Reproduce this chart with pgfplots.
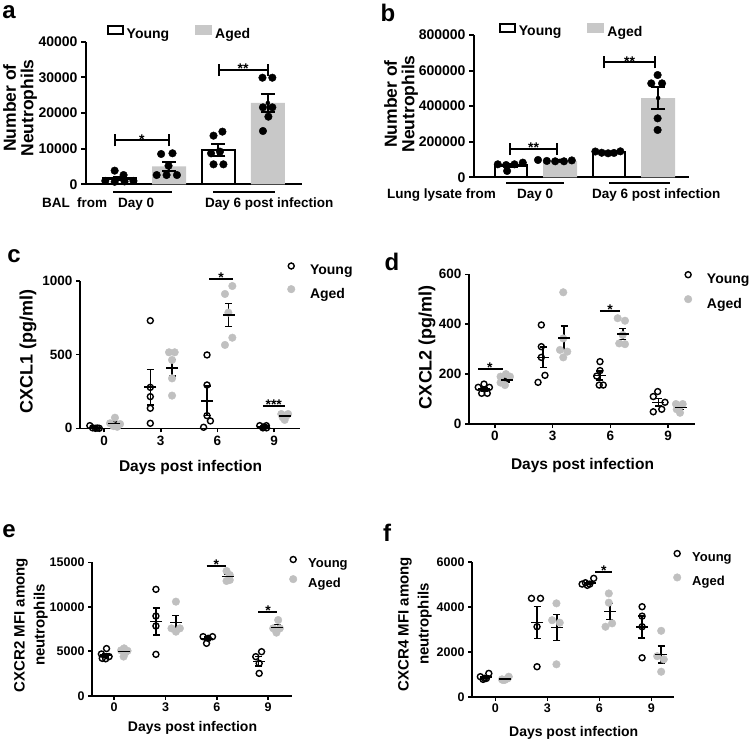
\documentclass[border=0pt]{standalone}
\usepackage{fontspec}
\setmainfont{Liberation Sans}
\usepackage{pgfplots}
\pgfplotsset{compat=1.18}
\definecolor{agedbar}{RGB}{200,200,200}
\definecolor{agedpt}{RGB}{192,192,192}
\newcommand{\fs}[1]{\bfseries\fontsize{#1}{#1}\selectfont}
\newcommand{\fsl}[2]{\bfseries\fontsize{#1}{#2}\selectfont}
\pgfplotsset{
  base/.style={scale only axis, clip=false, anchor=south west,
    axis x line*=bottom, axis y line*=left, tick align=outside,
    major tick length=4pt, ymin=0,
    /pgf/number format/assume math mode=true, scaled y ticks=false,
    yticklabel style={/pgf/number format/fixed, /pgf/number format/1000 sep={}},
    legend cell align=left},
  barax/.style={base, xtick=\empty, axis line style={line width=2pt, black},
    ytick style={line width=2pt, black}, tick label style={font=\fs{14}}, major tick length=5pt,
    legend style={draw=none, fill=none, inner sep=0pt, anchor=south west, legend columns=2,
      font=\fs{14}, nodes={inner sep=0pt},
      /tikz/every odd column/.append style={column sep=3pt},
      /tikz/every even column/.append style={column sep=26pt}}},
  dotax/.style={base, xtick={0,3,6,9}, axis line style={line width=1.6pt, black},
    tick style={line width=1.6pt, black}},
  young/.style={only marks, mark=o, mark size=3pt, mark options={line width=1.4pt, black}, black},
  aged/.style={only marks, mark=*, mark size=3.8pt, mark options={draw=agedpt, fill=agedpt}, agedpt},
  meanerr/.style={only marks, mark=-, mark size=6pt, mark options={line width=1.5pt, black}, black, forget plot,
    error bars/.cd, y dir=both, y explicit, error bar style={line width=1.5pt, black},
    error mark options={rotate=90, line width=1.5pt, black, mark size=3.5pt}},
  barerr/.style={only marks, mark=none, black, forget plot,
    error bars/.cd, y dir=both, y explicit, error bar style={line width=2pt, black},
    error mark options={rotate=90, line width=2pt, black, mark size=7pt}},
  barpts/.style={only marks, mark=*, mark size=3.8pt, black, forget plot},
  dotleg/.style={legend style={draw=none, fill=none, inner sep=0pt, anchor=north west,
      nodes={inner sep=0pt}}},
}
\tikzset{
  sig/.style={line width=1.8pt, black},
  star/.style={anchor=south, inner sep=0pt, yshift=-4pt, font=\fs{14}},
}
\begin{document}
\begin{tikzpicture}[x=1pt,y=-1pt]
\path[use as bounding box] (0,0) rectangle (754,743);

% ---------------- panel a
\begin{axis}[barax, at={(86pt,-184.3pt)}, width=216pt, height=142.6pt,
  xmin=-0.68, xmax=3.69, ymax=40000, ytick={0,10000,20000,30000,40000},
  legend style={at={(0.095,1.0105)}}]
\addplot[ybar, bar shift=0pt, bar width=32.5pt, fill=white, draw=black, line width=2.2pt,
  legend image code/.code={\draw[black, fill=white, line width=2pt] (0pt,0pt) rectangle (15pt,8pt);}]
  coordinates {(0,1638) (2,9577)};
\addlegendentry{Young}
\addplot[ybar, bar shift=0pt, bar width=34pt, fill=agedbar, draw=none,
  legend image code/.code={\fill[agedbar] (-1pt,-1pt) rectangle (16pt,9pt);}]
  coordinates {(1,5033) (3,22817)};
\addlegendentry{Aged}
\addplot[barerr] coordinates {(0,1638) +- (0,525) (1,5033) +- (0,1200) (2,9577) +- (0,1600) (3,22817) +- (0,2450)};
\addplot[barpts] coordinates {(-0.1,3830) (0.08,2600) (-0.29,950) (-0.1,700) (0.1,800) (0.28,950)
  (0.84,8500) (1.07,8700) (0.99,5200) (0.75,2600) (0.95,2600) (1.16,2600)
  (1.9,13640) (2.08,14770) (1.85,8690) (2.03,9160) (1.9,5600) (2.1,5600)
  (2.89,29900) (3.09,29900) (2.9,21590) (3.09,21590) (3.01,18970) (2.9,14950)};
\draw[sig, line width=2pt] (axis cs:-0.1,10660) -- (axis cs:-0.1,14020) (axis cs:-0.1,12340) -- (axis cs:1.0,12340) (axis cs:1.0,10660) -- (axis cs:1.0,14020);
\node[star] at (axis cs:0.45,12340) {*};
\draw[sig, line width=2pt] (axis cs:2.01,30370) -- (axis cs:2.01,33730) (axis cs:2.01,32050) -- (axis cs:3.0,32050) (axis cs:3.0,30370) -- (axis cs:3.0,33730);
\node[star] at (axis cs:2.5,32050) {**};
\end{axis}

% ---------------- panel b
\begin{axis}[barax, at={(474pt,-177.3pt)}, width=215pt, height=142.3pt,
  xmin=-0.755, xmax=3.63, ymax=800000, ytick={0,200000,400000,600000,800000},
  legend style={at={(0.115,0.9796)}}]
\addplot[ybar, bar shift=0pt, bar width=32.5pt, fill=white, draw=black, line width=2.2pt,
  legend image code/.code={\draw[black, fill=white, line width=2pt] (0pt,0pt) rectangle (15pt,8pt);}]
  coordinates {(0,66600) (2,140200)};
\addlegendentry{Young}
\addplot[ybar, bar shift=0pt, bar width=34pt, fill=agedbar, draw=none,
  legend image code/.code={\fill[agedbar] (-1pt,-1pt) rectangle (16pt,9pt);}]
  coordinates {(1,92900) (3,445700)};
\addlegendentry{Aged}
\addplot[barerr] coordinates {(0,66600) +- (0,8000) (1,92900) +- (0,1900) (2,140200) +- (0,2200) (3,445700) +- (0,61500)};
\addplot[barpts] coordinates {(-0.27,73000) (-0.1,69000) (0.07,73000) (0.24,82400) (-0.08,35600)
  (0.55,97400) (0.73,92000) (0.9,90000) (1.08,90000) (1.24,95000)
  (1.72,145000) (1.85,138000) (1.98,135000) (2.1,137000) (2.23,146000)
  (2.99,575000) (2.86,528000) (3.08,528000) (2.99,331600) (2.99,266000)};
\draw[sig, line width=2pt] (axis cs:-0.02,125300) -- (axis cs:-0.02,192700) (axis cs:-0.02,159000) -- (axis cs:0.94,159000) (axis cs:0.94,125300) -- (axis cs:0.94,192700);
\node[star] at (axis cs:0.46,159000) {**};
\draw[sig, line width=2pt] (axis cs:1.9,612300) -- (axis cs:1.9,679700) (axis cs:1.9,646000) -- (axis cs:2.94,646000) (axis cs:2.94,612300) -- (axis cs:2.94,679700);
\node[star] at (axis cs:2.42,646000) {**};
\end{axis}

% ---------------- panel c
\begin{axis}[dotax, dotleg, at={(80pt,-428.3pt)}, width=220pt, height=147.3pt,
  xmin=-1.27, xmax=10.37, ymax=1000, ytick={0,500,1000},
  tick label style={font=\fs{13.5}},
  legend style={at={(0.942,1.1236)}, font=\fs{14},
    /tikz/every odd column/.append style={column sep=15pt}, row sep=9pt},
  legend image code/.code={\draw[#1] plot coordinates {(0pt,4.8pt)};}]
\addplot[young] coordinates {(-0.75,18) (-0.6,3) (-0.45,0) (-0.35,2) (-0.25,0)
  (2.45,731) (2.45,278) (2.45,215) (2.45,136) (2.45,34)
  (5.45,498) (5.45,294) (5.45,86) (5.63,50) (5.27,7)
  (8.24,18) (8.59,18) (8.41,3) (8.6,3) (8.45,8)};
\addlegendentry{Young}
\addplot[aged] coordinates {(0.58,72) (0.32,34) (0.85,29) (0.5,15) (0.7,10)
  (3.44,516) (3.74,516) (3.6,464) (3.6,339) (3.6,222)
  (6.4,912) (6.79,966) (6.58,785) (6.79,615) (6.4,566)
  (9.38,97) (9.74,97) (9.56,57) (9.45,75) (9.65,85)};
\addlegendentry{Aged}
\addplot[meanerr] coordinates {(-0.5,5) +- (0,3) (2.45,279) +- (0,120) (5.45,187) +- (0,100) (8.45,10) +- (0,3)
  (0.55,32) +- (0,11) (3.6,411) +- (0,57) (6.6,769) +- (0,79) (9.55,82) +- (0,8)};
\draw[sig] (axis cs:5.56,1013) -- (axis cs:6.83,1013);
\node[star] at (axis cs:6.2,1013) {*};
\draw[sig] (axis cs:8.41,154) -- (axis cs:9.56,154);
\node[star] at (axis cs:8.98,154) {***};
\end{axis}

% ---------------- panel d
\begin{axis}[dotax, dotleg, at={(469pt,-424pt)}, width=226pt, height=149.7pt,
  xmin=-1.35, xmax=10.4, ymax=600, ytick={0,200,400,600},
  tick label style={font=\fs{13.5}},
  legend style={at={(0.952,1.0187)}, font=\fs{14},
    /tikz/every odd column/.append style={column sep=15pt}, row sep=10.3pt},
  legend image code/.code={\draw[#1] plot coordinates {(0pt,4.8pt)};}]
\addplot[young] coordinates {(-0.87,147) (-0.57,160) (-0.29,147) (-0.69,123) (-0.4,123)
  (2.41,397) (2.41,310) (2.41,267) (2.6,195) (2.24,167)
  (5.46,250) (5.46,214) (5.29,192) (5.42,156) (5.63,156)
  (8.46,130) (8.23,110) (8.84,87) (8.23,49) (8.67,59)};
\addlegendentry{Young}
\addplot[aged] coordinates {(0.29,190) (0.57,200) (0.78,190) (0.29,166) (0.52,156)
  (3.55,528) (3.55,343) (3.38,297) (3.76,290) (3.55,267)
  (6.38,424) (6.76,414) (6.64,357) (6.46,323) (6.76,320)
  (9.41,80) (9.76,80) (9.58,67) (9.45,59) (9.62,45)};
\addlegendentry{Aged}
\addplot[meanerr] coordinates {(-0.55,140) +- (0,7) (2.5,267) +- (0,41) (5.45,194) +- (0,18) (8.5,87) +- (0,15)
  (0.6,176) +- (0,8) (3.6,345) +- (0,47) (6.65,361) +- (0,22) (9.65,66) +- (0,7)};
\draw[sig] (axis cs:-0.87,220) -- (axis cs:0.4,220);
\node[star] at (axis cs:-0.26,220) {*};
\draw[sig] (axis cs:5.46,453) -- (axis cs:6.5,453);
\node[star] at (axis cs:5.99,453) {*};
\end{axis}

% ---------------- panel e
\begin{axis}[dotax, dotleg, at={(92pt,-695.7pt)}, width=200pt, height=133.4pt,
  xmin=-1.3, xmax=10.4, ymax=15000, ytick={0,5000,10000,15000},
  tick label style={font=\fs{12.5}},
  legend style={at={(0.986,1.045)}, font=\fs{13},
    /tikz/every odd column/.append style={column sep=11.2pt}, row sep=6pt},
  legend image code/.code={\draw[#1] plot coordinates {(0pt,4.6pt)};}]
\addplot[young] coordinates {(-0.75,4690) (-0.45,5300) (-0.7,4200) (-0.5,4150) (-0.3,4400)
  (2.44,11960) (2.44,8960) (2.44,7840) (2.44,4650)
  (5.2,6640) (5.5,6450) (5.75,6640) (5.4,5890)
  (8.62,4950) (8.28,4390) (8.48,3640) (8.48,2510)};
\addlegendentry{Young}
\addplot[aged] coordinates {(0.58,5325) (0.4,5100) (0.78,5050) (0.55,4400) (0.65,4850)
  (3.61,10575) (3.35,7575) (3.84,7575) (3.61,7200)
  (6.57,14025) (6.76,13575) (6.57,12900) (6.76,13010)
  (9.59,8510) (9.3,7575) (9.69,7575) (9.49,7090)};
\addlegendentry{Aged}
\addplot[meanerr] coordinates {(-0.5,4550) +- (0,210) (2.45,8350) +- (0,1510) (5.45,6400) +- (0,180) (8.45,3870) +- (0,530)
  (0.6,4950) +- (0,156) (3.6,8230) +- (0,790) (6.65,13380) +- (0,260) (9.55,7690) +- (0,300)};
\draw[sig] (axis cs:5.4,14590) -- (axis cs:6.53,14590);
\node[star] at (axis cs:5.98,14590) {*};
\draw[sig] (axis cs:8.42,9450) -- (axis cs:9.55,9450);
\node[star] at (axis cs:9.0,9450) {*};
\end{axis}

% ---------------- panel f
\begin{axis}[dotax, dotleg, at={(472pt,-696.7pt)}, width=202pt, height=135pt,
  xmin=-1.35, xmax=10.3, ymax=6000, ytick={0,2000,4000,6000},
  tick label style={font=\fs{12.5}},
  legend style={at={(0.996,1.0844)}, font=\fs{13},
    /tikz/every odd column/.append style={column sep=11.2pt}, row sep=10.3pt},
  legend image code/.code={\draw[#1] plot coordinates {(0pt,4.6pt)};}]
\addplot[young] coordinates {(-0.87,889) (-0.63,815) (-0.38,1037) (-0.71,770) (-0.52,815)
  (2.08,4370) (2.6,4370) (2.4,3110) (2.4,1333)
  (5.0,5005) (5.19,5065) (5.44,5005) (5.67,5260) (5.3,4950)
  (8.46,4000) (8.46,3580) (8.46,3110) (8.46,1730)};
\addlegendentry{Young}
\addplot[aged] coordinates {(0.38,770) (0.71,815) (0.44,740) (0.77,889) (0.55,750)
  (3.52,4150) (3.27,3400) (3.71,3290) (3.52,1440)
  (6.54,4590) (6.54,4180) (6.35,3110) (6.73,3260)
  (9.56,2930) (9.33,1800) (9.71,1660) (9.56,1110)};
\addlegendentry{Aged}
\addplot[meanerr] coordinates {(-0.55,865) +- (0,46) (2.4,3296) +- (0,705) (5.45,5057) +- (0,55) (8.45,3105) +- (0,493)
  (0.55,793) +- (0,26) (3.55,3070) +- (0,576) (6.6,3785) +- (0,358) (9.55,1875) +- (0,382)};
\draw[sig] (axis cs:5.77,5555) -- (axis cs:6.73,5555);
\node[star] at (axis cs:6.25,5555) {*};
\end{axis}

% ---------------- texts
\node[font=\fs{24}, inner sep=0pt] at (9,12) {a};
\node[font=\fs{24}, inner sep=0pt] at (388,13) {b};
\node[font=\fs{24}, inner sep=0pt] at (14,256) {c};
\node[font=\fs{24}, inner sep=0pt] at (392,262) {d};
\node[font=\fs{24}, inner sep=0pt] at (9,531) {e};
\node[font=\fs{24}, inner sep=0pt] at (387,533) {f};

\node[rotate=90, align=center, inner sep=0pt, font=\fsl{17.5}{17.5}] at (20,108) {Number of\\Neutrophils};
\node[rotate=90, align=center, inner sep=0pt, font=\fsl{17.5}{17.5}] at (401,104) {Number of\\Neutrophils};
\node[rotate=90, font=\fs{18}] at (28,351.7) {CXCL1 (pg/ml)};
\node[rotate=90, font=\fs{18}] at (427,347) {CXCL2 (pg/ml)};
\node[rotate=90, align=center, inner sep=0pt, font=\fsl{15}{20}] at (31,625) {CXCR2 MFI among\\neutrophils};
\node[rotate=90, align=center, inner sep=0pt, font=\fsl{15}{20}] at (415,624) {CXCR4 MFI among\\neutrophils};

\node[font=\fs{15.5}] at (190.5,467) {Days post infection};
\node[font=\fs{15.5}] at (582.5,465) {Days post infection};
\node[font=\fs{14}] at (192.5,728) {Days post infection};
\node[font=\fs{14}] at (573.7,732.7) {Days post infection};

\draw[line width=2pt] (113,192) -- (172,192) (213,192) -- (275,192);
\node[anchor=base west, inner sep=0pt, font=\fs{13.5}] at (42,208) {BAL};
\node[anchor=base west, inner sep=0pt, font=\fs{13.5}] at (77,208) {from};
\node[anchor=base west, inner sep=0pt, font=\fs{13.5}] at (118,208) {Day 0};
\node[anchor=base west, inner sep=0pt, font=\fs{13.5}] at (205,208) {Day 6 post infection};

\draw[line width=2pt] (506,183.3) -- (564,183.3) (609,183.3) -- (670,183.3);
\node[anchor=base west, inner sep=0pt, font=\fs{13.5}] at (387,198.3) {Lung lysate from};
\node[anchor=base west, inner sep=0pt, font=\fs{13.5}] at (517,198.3) {Day 0};
\node[anchor=base west, inner sep=0pt, font=\fs{13.5}] at (592,198.3) {Day 6 post infection};
\end{tikzpicture}
\end{document}
